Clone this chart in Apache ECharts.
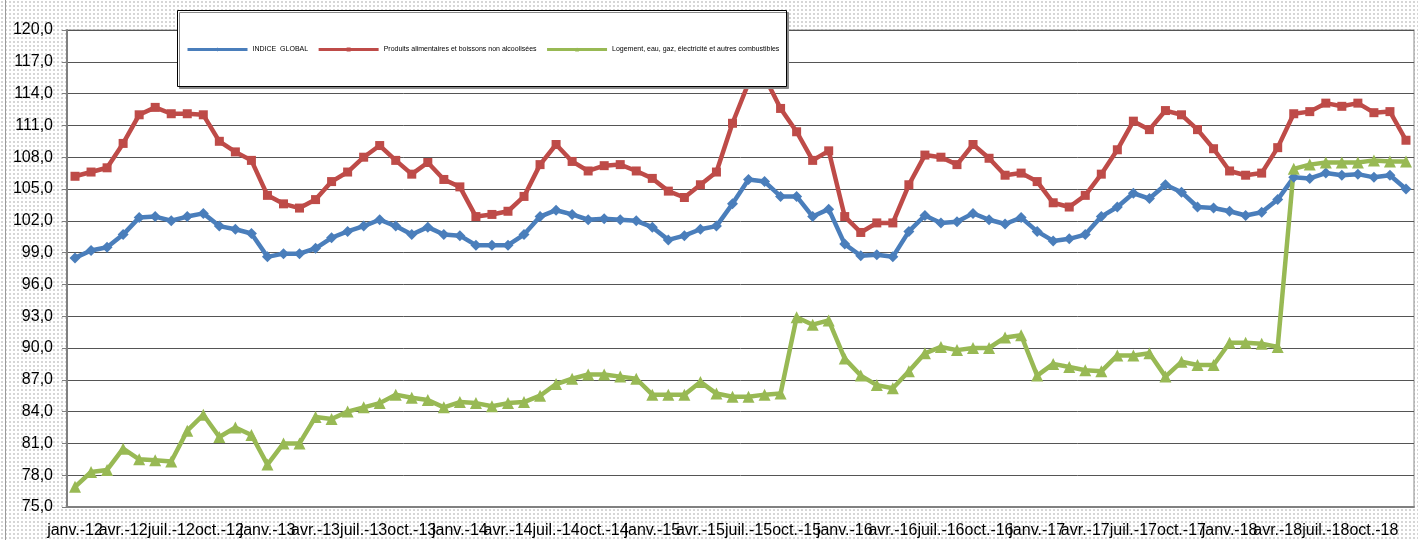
<!DOCTYPE html>
<html>
<head>
<meta charset="utf-8">
<script src="https://cdn.jsdelivr.net/npm/echarts@6/dist/echarts.min.js"></script>
<style>
  html, body { margin: 0; padding: 0; }
  body {
    width: 1418px; height: 540px; overflow: hidden;
    background-color: #fff;
    background-image: radial-gradient(#d6d6d6 1px, transparent 1.3px);
    background-size: 4px 4px;
  }
  #edge { position: absolute; left: 5px; top: 0; width: 1px; height: 540px; background: #9a9a9a; }
  #chart { position: absolute; left: 0; top: 0; width: 1418px; height: 540px; }
</style>
</head>
<body>
<div id="edge"></div>
<div id="chart"></div>
<script>
// mois et années (axe des abscisses)
const months = ['janv.', 'févr.', 'mars', 'avr.', 'mai', 'juin', 'juil.', 'août', 'sept.', 'oct.', 'nov.', 'déc.']
const years = ['12', '13', '14', '15', '16', '17', '18']
const categories = []
years.forEach(y => months.forEach(m => categories.push(m + '-' + y)))

const seriesNames = [
  'INDICE  GLOBAL',
  'Produits alimentaires et boissons non alcoolisées',
  'Logement, eau, gaz, électricité et autres combustibles'
]

// INDICE GLOBAL
const indiceGlobal = [
  98.5, 99.2, 99.5, 100.7, 102.3, 102.4, 102.0, 102.4, 102.7, 101.5, 101.2, 100.8,
  98.6, 98.9, 98.9, 99.4, 100.4, 101.0, 101.5, 102.1, 101.5, 100.7, 101.4, 100.7,
  100.6, 99.7, 99.7, 99.7, 100.7, 102.4, 103.0, 102.6, 102.1, 102.2, 102.1, 102.0,
  101.4, 100.2, 100.6, 101.2, 101.5, 103.6, 105.9, 105.7, 104.3, 104.3, 102.4, 103.1,
  99.8, 98.7, 98.8, 98.6, 101.0, 102.5, 101.8, 101.9, 102.7, 102.1, 101.7, 102.3,
  101.0, 100.1, 100.3, 100.7, 102.4, 103.3, 104.6, 104.1, 105.4, 104.7, 103.3, 103.2,
  102.9, 102.5, 102.8, 104.0, 106.1, 106.0, 106.5, 106.3, 106.4, 106.1, 106.3, 105.0
]

// Produits alimentaires et boissons non alcoolisées
const alimentaires = [
  106.2, 106.6, 107.0, 109.3, 112.0, 112.7, 112.1, 112.1, 112.0, 109.5, 108.5, 107.7,
  104.4, 103.6, 103.2, 104.0, 105.7, 106.6, 108.0, 109.1, 107.7, 106.4, 107.5, 105.9,
  105.2, 102.4, 102.6, 102.9, 104.3, 107.3, 109.2, 107.6, 106.7, 107.2, 107.3, 106.7,
  106.0, 104.8, 104.2, 105.4, 106.6, 111.2, 115.0, 115.6, 112.6, 110.4, 107.7, 108.6,
  102.4, 100.9, 101.8, 101.8, 105.4, 108.2, 108.0, 107.3, 109.2, 107.9, 106.3, 106.5,
  105.7, 103.7, 103.3, 104.4, 106.4, 108.7, 111.4, 110.6, 112.4, 112.0, 110.6, 108.8,
  106.7, 106.3, 106.5, 108.9, 112.1, 112.3, 113.1, 112.8, 113.1, 112.2, 112.3, 109.6
]

// Logement, eau, gaz, électricité et autres combustibles
const logement = [
  76.9, 78.3, 78.5, 80.5, 79.5, 79.4, 79.3, 82.2, 83.7, 81.6, 82.5, 81.8,
  79.0, 81.0, 81.0, 83.5, 83.3, 84.0, 84.4, 84.8, 85.6, 85.3, 85.1, 84.4,
  84.9, 84.8, 84.5, 84.8, 84.9, 85.5, 86.6, 87.1, 87.5, 87.5, 87.3, 87.1,
  85.6, 85.6, 85.6, 86.8, 85.7, 85.4, 85.4, 85.6, 85.7, 92.9, 92.2, 92.6,
  89.0, 87.4, 86.5, 86.2, 87.8, 89.5, 90.1, 89.8, 90.0, 90.0, 91.0, 91.2,
  87.4, 88.5, 88.2, 87.9, 87.8, 89.3, 89.3, 89.5, 87.3, 88.7, 88.4, 88.4,
  90.5, 90.5, 90.4, 90.1, 106.9, 107.3, 107.5, 107.5, 107.5, 107.7, 107.6, 107.6
]

const font = '"Liberation Sans", Arial, sans-serif'

const chart = echarts.init(document.getElementById('chart'))

function lineSeries(name, data, color, symbol, size) {
  return {
    name: name,
    type: 'line',
    data: data,
    symbol: symbol,
    symbolSize: size,
    showAllSymbol: true,
    lineStyle: { color: color, width: 4.5 },
    itemStyle: { color: color },
    z: 2
  }
}

// cadre de la légende
const legendBox = {
  type: 'rect',
  id: 'legendBox',
  left: 177, top: 10, z: 10,
  shape: { width: 609, height: 76 },
  style: {
    fill: '#fff', stroke: '#000', lineWidth: 1,
    shadowColor: '#8a8a8a', shadowOffsetX: 2, shadowOffsetY: 2, shadowBlur: 0
  }
}

chart.setOption({
  animation: false,
  backgroundColor: 'transparent',
  textStyle: { fontFamily: font },
  grid: {
    left: 67, right: 4, top: 30, bottom: 33,
    show: true,
    backgroundColor: '#fff',
    borderColor: '#8c8c8c',
    borderWidth: 1
  },
  graphic: [legendBox],
  legend: {
    data: seriesNames,
    left: 181, top: 41, z: 20,
    itemWidth: 60, itemHeight: 5, itemGap: 9,
    textStyle: { fontSize: 7, color: '#000', fontFamily: font },
    lineStyle: { width: 3 }
  },
  xAxis: {
    type: 'category',
    data: categories,
    boundaryGap: true,
    axisLine: { lineStyle: { color: '#808080', width: 2 } },
    axisTick: { interval: 2, length: 4, lineStyle: { color: '#808080' } },
    // libellés dessinés plus bas : ECharts masque ceux qui se chevauchent
    axisLabel: { show: false },
    splitLine: { show: false }
  },
  yAxis: {
    type: 'value',
    min: 75, max: 120, interval: 3,
    axisLine: { show: true, lineStyle: { color: '#808080', width: 2 } },
    axisTick: { show: true, length: 5, lineStyle: { color: '#808080' } },
    axisLabel: {
      fontSize: 16, color: '#000', margin: 14, fontFamily: font,
      formatter: v => v.toFixed(1).replace('.', ',')
    },
    splitLine: { lineStyle: { color: '#555', width: 1 } }
  },
  series: [
    lineSeries(seriesNames[0], indiceGlobal, '#4a7ebb', 'diamond', 11),
    lineSeries(seriesNames[1], alimentaires, '#be4b48', 'rect', 9),
    lineSeries(seriesNames[2], logement, '#98b954', 'triangle', 12)
  ]
})

// un libellé tous les trois mois, placé par l'échelle de l'axe
const labelY = chart.convertToPixel({ yAxisIndex: 0 }, 75) + 16
const xLabels = []
categories.forEach((c, i) => {
  if (i % 3 !== 0) return
  xLabels.push({
    type: 'text',
    id: 'xl' + i,
    z: 5,
    x: chart.convertToPixel({ xAxisIndex: 0 }, c),
    y: labelY,
    style: {
      text: c,
      font: '16px ' + font,
      fill: '#000',
      align: 'center',
      verticalAlign: 'top'
    }
  })
})
chart.setOption({ graphic: [legendBox].concat(xLabels) })

window.addEventListener('resize', () => chart.resize())
</script>
</body>
</html>
